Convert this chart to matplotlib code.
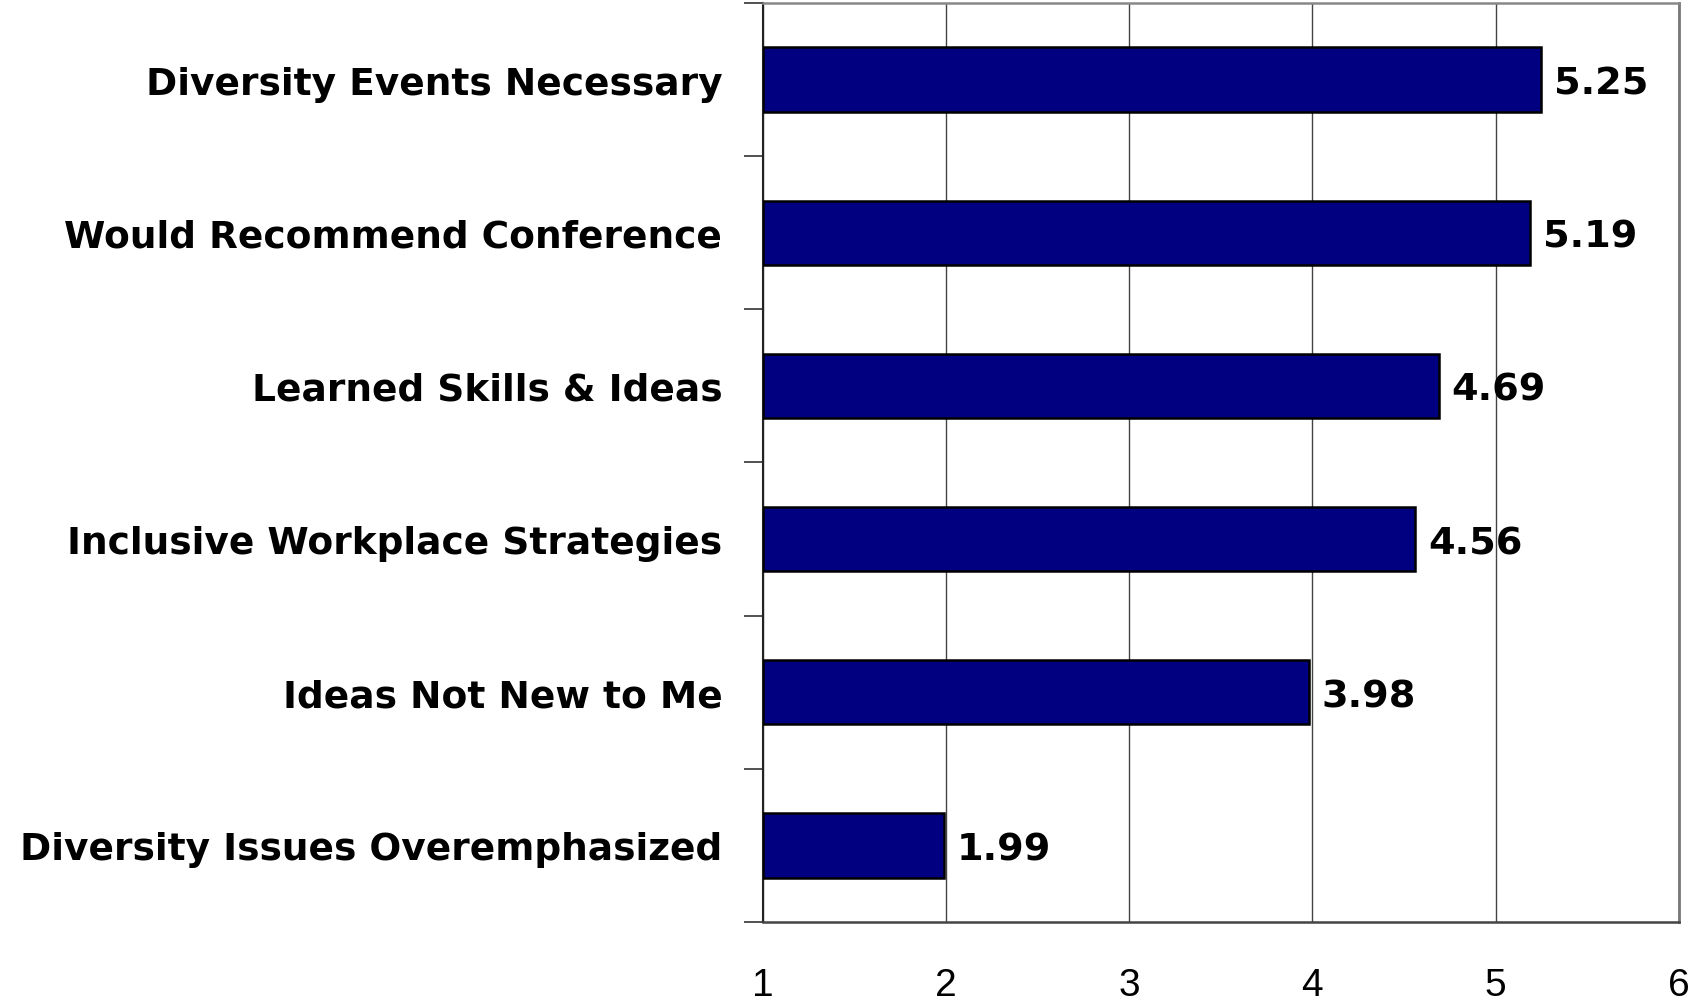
import numpy as np
import matplotlib.pyplot as plt

# Survey items (top to bottom) and mean scores
categories = [
    "Diversity Events Necessary",
    "Would Recommend Conference",
    "Learned Skills & Ideas",
    "Inclusive Workplace Strategies",
    "Ideas Not New to Me",
    "Diversity Issues Overemphasized",
]
scores = [5.25, 5.19, 4.69, 4.56, 3.98, 1.99]
x_ticks = [1, 2, 3, 4, 5, 6]

plt.rcParams['font.family'] = ['DejaVu Sans']

fig = plt.figure(figsize=(16.94, 10.04), dpi=100)
ax = fig.add_axes([0.4502, 0.0807, 0.5409, 0.9153])

y = np.arange(len(categories))[::-1]
base = 1
ax.barh(y, np.array(scores) - base, left=base, height=0.42,
        color='#000080', edgecolor='black', linewidth=1.8, zorder=3)

for yi, v in zip(y, scores):
    ax.text(v + 0.07, yi, f"{v:.2f}", va='center_baseline', ha='left',
            fontsize=27.5, fontweight='bold', zorder=4)

ax.set_xlim(1, 6)
ax.set_ylim(-0.5, len(categories) - 0.5)
ax.set_xticks(x_ticks)
ax.set_xticklabels([str(t) for t in x_ticks], fontsize=28,
                   family='Liberation Sans')
ax.tick_params(axis='x', length=0, pad=32.5)

ax.set_yticks(y)
ax.set_yticklabels(categories, fontsize=27, fontweight='bold')
ax.tick_params(axis='y', which='major', length=0, pad=29)
ax.set_yticks(np.arange(-0.5, len(categories), 1.0), minor=True)
ax.tick_params(axis='y', which='minor', length=14, width=1.2,
               color='#333333', direction='out')

ax.grid(axis='x', color='#444444', linewidth=1.0, zorder=0)

ax.spines['left'].set_color('#222222')
ax.spines['left'].set_linewidth(1.5)
ax.spines['bottom'].set_color('#444444')
ax.spines['bottom'].set_linewidth(1.8)
ax.spines['top'].set_color('#888888')
ax.spines['top'].set_linewidth(1.8)
ax.spines['right'].set_color('#777777')
ax.spines['right'].set_linewidth(2.0)

fig.savefig("out.png", dpi=100)
